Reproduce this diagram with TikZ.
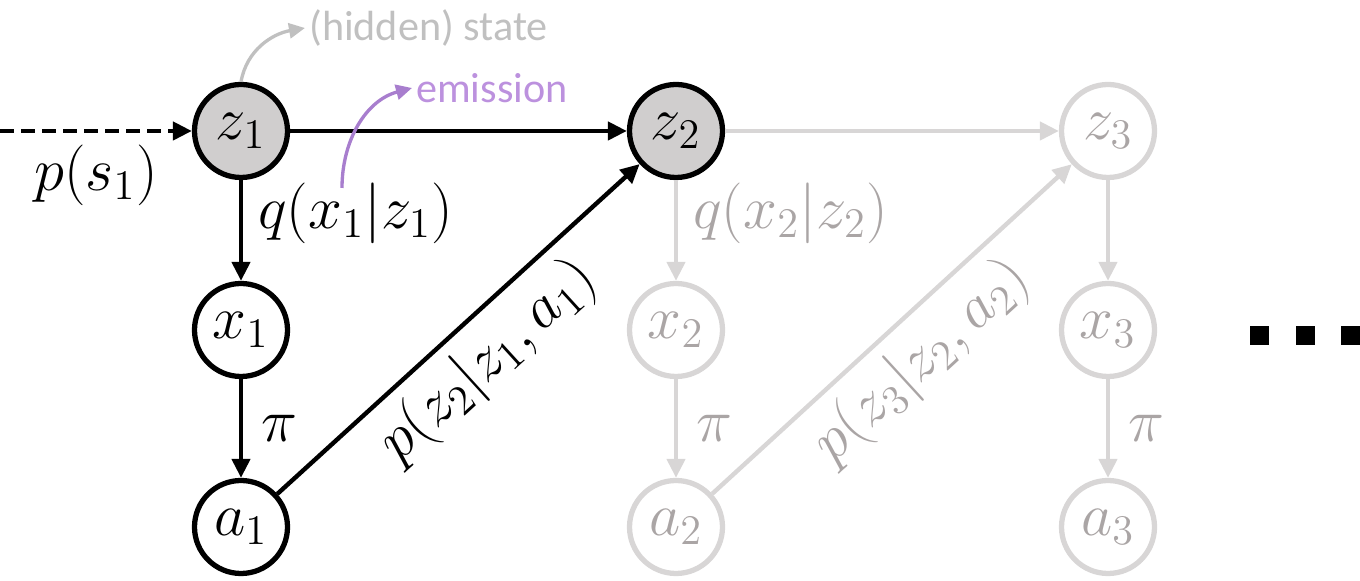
\documentclass[tikz,border=0pt]{standalone}
\usepackage{fontspec}
\setsansfont{Carlito}
\usepackage{tikz}
\usetikzlibrary{arrows.meta,positioning}
\definecolor{hidfill}{RGB}{208,206,206}
\definecolor{fadeln}{RGB}{216,214,214}
\definecolor{fadetxt}{RGB}{170,165,165}
\definecolor{notecol}{RGB}{192,192,192}
\definecolor{emcol}{RGB}{188,145,222}
\definecolor{emarrow}{RGB}{168,126,206}
\tikzset{
  % random-variable circles
  varnode/.style={circle, draw=black, fill=white, line width=1.5pt,
    minimum size=0.93cm, inner sep=0pt, font=\fontsize{16.5}{19}\selectfont},
  hidnode/.style={varnode, fill=hidfill},
  fadenode/.style={varnode, draw=fadeln, text=fadetxt},
  % dependency arrows
  edgeln/.style={-{Triangle[length=0.19cm,width=0.18cm]}, line width=1.25pt},
  fadeedge/.style={edgeln, draw=fadeln},
  edgelab/.style={font=\fontsize{16.5}{19}\selectfont},
  fadelab/.style={edgelab, text=fadetxt},
  % side notes
  notearrow/.style={-{Triangle[length=0.16cm,width=0.15cm]}, line width=0.95pt},
  notetxt/.style={font=\sffamily\fontsize{12}{14}\selectfont, inner sep=1pt},
}

\begin{document}
\begin{tikzpicture}
    \useasboundingbox (0,0) rectangle (13.6,5.81);
    % step 1
    \node[hidnode] (z1) at (2.41,4.50) {$z_1$};
    \node[varnode] (x1) at (2.41,2.51) {$x_1$};
    \node[varnode] (a1) at (2.41,0.54) {$a_1$};
    % step 2
    \node[hidnode] (z2) at (6.76,4.50) {$z_2$};
    \node[fadenode] (x2) at (6.76,2.51) {$x_2$};
    \node[fadenode] (a2) at (6.76,0.54) {$a_2$};
    % step 3
    \node[fadenode] (z3) at (11.08,4.50) {$z_3$};
    \node[fadenode] (x3) at (11.08,2.51) {$x_3$};
    \node[fadenode] (a3) at (11.08,0.54) {$a_3$};
    % initial state
    \coordinate (init) at (0,4.50);
    \draw[edgeln, dash pattern=on 0.14cm off 0.07cm] (init) -- (z1)
      node[edgelab, midway, below] {$p(s_1)$};
    % first step, in black
    \draw[edgeln] (z1) -- (z2);
    \draw[edgeln] (z1) -- (x1) node[edgelab, pos=0.33, right=1pt] {$q(x_1|z_1)$};
    \draw[edgeln] (x1) -- (a1) node[edgelab, midway, right=2pt] {$\pi$};
    \draw[edgeln] (a1) -- (z2)
      node[edgelab, midway, below, sloped] {$p(z_2|z_1,a_1)$};
    % later steps, faded
    \draw[fadeedge] (z2) -- (z3);
    \draw[fadeedge] (z2) -- (x2) node[fadelab, pos=0.33, right=1pt] {$q(x_2|z_2)$};
    \draw[fadeedge] (x2) -- (a2) node[fadelab, midway, right=2pt] {$\pi$};
    \draw[fadeedge] (a2) -- (z3)
      node[fadelab, midway, below, sloped] {$p(z_3|z_2,a_2)$};
    \draw[fadeedge] (z3) -- (x3);
    \draw[fadeedge] (x3) -- (a3) node[fadelab, midway, right=2pt] {$\pi$};
    % side notes
    \node[notetxt, text=notecol, anchor=west] (hs) at (3.05,5.53) {(hidden) state};
    \draw[notearrow, notecol] (z1.north) to[out=80, in=190] (hs.west);
    \node[notetxt, text=emcol, anchor=west] (em) at (4.12,4.93) {emission};
    \coordinate (emstart) at (3.42,3.93);
    \draw[notearrow, emarrow] (emstart) to[out=90, in=195] (em.west);
    % ellipsis
    \foreach \i in {12.50,12.955,13.41}
      \fill (\i,2.36) rectangle ++(0.19,0.19);
\end{tikzpicture}
\end{document}
